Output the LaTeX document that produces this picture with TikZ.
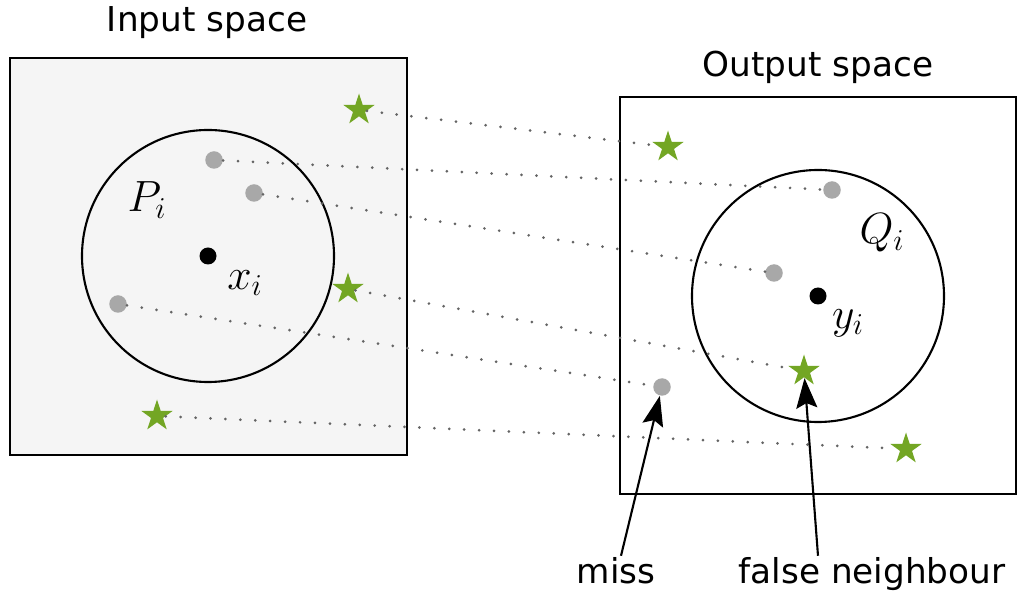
\documentclass[tikz,border=0pt]{standalone}
\usepackage{fontspec}
\setmainfont{DejaVu Sans}
\usetikzlibrary{shapes.geometric,arrows.meta}

\definecolor{stargreen}{RGB}{115,166,36}
\definecolor{ptgray}{RGB}{168,168,168}
\definecolor{linkgray}{RGB}{100,100,100}
\definecolor{boxgray}{RGB}{245,245,245}

\tikzset{
  sample/.style={circle, fill=ptgray, inner sep=0pt, minimum size=0.35cm},
  centre/.style={circle, fill=black, inner sep=0pt, minimum size=0.34cm},
  outlier/.style={star, star points=5, star point ratio=2.618, fill=stargreen, inner sep=0pt, minimum size=0.66cm},
  link/.style={linkgray, line width=1.7pt, line cap=round, dash pattern=on 0pt off 8.5pt},
  title/.style={font=\fontsize{19.5}{22}\selectfont, anchor=base},
  mathlabel/.style={font=\fontsize{24}{28}\selectfont},
  pointer/.style={line width=1.2pt, -{Stealth[length=0.6cm,width=0.42cm,inset=0.1cm]}},
}

\begin{document}
\begin{tikzpicture}
    \useasboundingbox (0,0) rectangle (20.38,11.92);

    % the two spaces
    \draw[line width=1.2pt, fill=boxgray] (0.2,2.82) rectangle (8.14,10.76);
    \draw[line width=1.2pt] (12.4,2.04) rectangle (20.32,9.98);
    \node[title] (intitle) at (4.14,11.28) {Input space};
    \node[title] (outtitle) at (16.36,10.38) {Output space};

    % neighbourhoods
    \draw[line width=1.2pt] (4.16,6.8) circle (2.52);
    \draw[line width=1.2pt] (16.36,6.0) circle (2.52);

    \node[centre] (x) at (4.16,6.8) {};
    \node[centre] (y) at (16.36,6.0) {};
    \node[mathlabel] (xl) at (4.9,6.26) {$x_i$};
    \node[mathlabel] (yl) at (16.96,5.46) {$y_i$};
    \node[mathlabel] (P) at (2.94,7.92) {$P_i$};
    \node[mathlabel] (Q) at (17.64,7.26) {$Q_i$};

    % points in input space
    \node[sample] (inA) at (4.28,8.72) {};
    \node[sample] (inB) at (5.08,8.06) {};
    \node[sample] (inC) at (2.36,5.84) {};
    \node[outlier] (inS) at (7.18,9.72) {};
    \node[outlier] (inT) at (6.96,6.14) {};
    \node[outlier] (inU) at (3.14,3.60) {};

    % points in output space
    \node[sample] (outA) at (16.64,8.12) {};
    \node[sample] (outB) at (15.48,6.46) {};
    \node[sample] (outC) at (13.24,4.18) {};
    \node[outlier] (outS) at (13.36,8.98) {};
    \node[outlier] (outT) at (16.08,4.50) {};
    \node[outlier] (outU) at (18.12,2.94) {};

    \draw[link] (inS) -- (outS);
    \draw[link] (inA) -- (outA);
    \draw[link] (inB) -- (outB);
    \draw[link] (inT) -- (outT);
    \draw[link] (inC) -- (outC);
    \draw[link] (inU) -- (outU);

    \node[title] (miss) at (12.32,0.26) {miss};
    \node[title] (fn) at (17.44,0.26) {false neighbour};

    \draw[pointer] ([xshift=0.1cm,yshift=-0.1cm]miss.north) -- (outC);
    \draw[pointer] ([xshift=-1.08cm,yshift=-0.1cm]fn.north) -- (outT);
\end{tikzpicture}
\end{document}
